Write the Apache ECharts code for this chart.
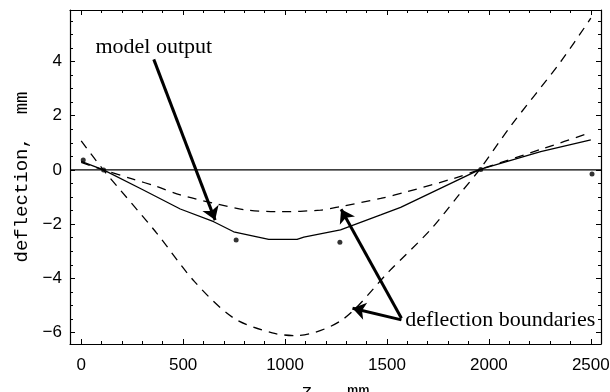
<!DOCTYPE html>
<html>
<head>
<meta charset="utf-8">
<script src="https://cdn.jsdelivr.net/npm/echarts@6/dist/echarts.min.js"></script>
<style>
  html, body { margin: 0; padding: 0; background: #fff; }
  #chart { width: 610px; height: 392px; }
</style>
</head>
<body>
<div id="chart"></div>
<script>
// Axis extents and tick labels
const zRange = [-55, 2550];
const deflRange = [-6.42, 5.9];
const zTickLabels = [0, 500, 1000, 1500, 2000, 2500];
const deflTickLabels = [-6, -4, -2, 0, 2, 4];

// Measured deflection points
const measuredZ = [10, 110, 760, 1269, 1960, 2506];
const measuredDefl = [0.37, 0.0, -2.58, -2.67, 0.02, -0.15];

// Model output (solid curve)
const modelZ = [0, 109, 300, 486, 650, 748, 920, 1059, 1092, 1272, 1469, 1567, 1957, 2254, 2500];
const modelDefl = [0.32, 0.0, -0.72, -1.44, -1.91, -2.28, -2.56, -2.56, -2.48, -2.21, -1.66, -1.38, 0.02, 0.68, 1.11];

// Upper deflection boundary (dashed)
const upperZ = [0, 109, 250, 366, 486, 650, 814, 977, 1174, 1272, 1469, 1600, 1829, 1957, 2271, 2500];
const upperDefl = [0.28, 0.0, -0.33, -0.6, -0.92, -1.23, -1.48, -1.54, -1.48, -1.35, -1.05, -0.8, -0.31, 0.02, 0.8, 1.38];

// Lower deflection boundary (dashed)
const lowerZ = [0, 109, 366, 556, 747, 937, 1052, 1280, 1509, 1714, 1853, 1957, 2107, 2353, 2500];
const lowerDefl = [1.07, 0.0, -2.29, -4.12, -5.46, -6.01, -6.11, -5.53, -3.75, -2.2, -0.92, 0.04, 1.62, 4.0, 5.6];

// Annotation texts and arrows (data coordinates)
const noteModel = { text: 'model output', at: [356, 4.54] };
const noteBounds = { text: 'deflection boundaries', at: [1590, -5.55] };
const arrows = [
  [[356, 4.08], [657, -1.85]],
  [[1571, -5.47], [1275, -1.45]],
  [[1571, -5.53], [1331, -5.1]]
];

const pairs = (xs, ys) => xs.map((x, i) => [x, ys[i]]);
const minorTicks = (lo, hi, step, majors) => {
  const out = [];
  for (let v = lo; v <= hi + 1e-9; v += step) {
    const r = Math.round(v * 1000) / 1000;
    if (!majors.includes(r)) out.push(r);
  }
  return out;
};
const zMinor = minorTicks(0, 2500, 100, zTickLabels);
const deflMinor = minorTicks(-6, 5.5, 0.5, deflTickLabels);

const ink = '#000';
const sansFont = '"Liberation Sans", Arial, sans-serif';
const monoFont = '"Liberation Mono", "Courier New", monospace';
const serifFont = '"Liberation Serif", "Times New Roman", serif';

function frameAxis(position, range, ticks, len, opts) {
  const ax = {
    type: 'value',
    position: position,
    min: range[0],
    max: range[1],
    splitLine: { show: false },
    axisLine: { show: !!opts.line, onZero: false, lineStyle: { color: ink, width: 1.2 } },
    axisTick: { show: true, inside: true, length: len, customValues: ticks, lineStyle: { color: ink, width: 1 } },
    axisLabel: { show: false }
  };
  if (opts.labels) {
    ax.axisLabel = {
      show: true,
      customValues: ticks,
      color: ink,
      fontFamily: sansFont,
      fontSize: 17,
      margin: opts.margin,
      formatter: v => String(v).replace('-', '\u2212')
    };
  }
  if (opts.name) {
    Object.assign(ax, {
      name: opts.name,
      nameLocation: 'middle',
      nameGap: opts.nameGap,
      nameTextStyle: { color: ink, fontFamily: monoFont, fontSize: 19 }
    });
  }
  return ax;
}

const chart = echarts.init(document.getElementById('chart'), null, { renderer: 'canvas' });

const lineBase = { type: 'line', showSymbol: false, symbol: 'none', silent: true, animation: false, xAxisIndex: 0, yAxisIndex: 0 };

chart.setOption({
  animation: false,
  backgroundColor: '#fff',
  grid: { left: 70, right: 9, top: 10, bottom: 48, containLabel: false, outerBoundsMode: 'none' },
  xAxis: [
    frameAxis('bottom', zRange, zTickLabels, 5, { line: true, labels: true, margin: 13, name: 'z,  mm', nameGap: 38 }),
    frameAxis('bottom', zRange, zMinor, 3, {}),
    frameAxis('top', zRange, zTickLabels, 5, { line: true }),
    frameAxis('top', zRange, zMinor, 3, {})
  ],
  yAxis: [
    frameAxis('left', deflRange, deflTickLabels, 5, { line: true, labels: true, margin: 8, name: 'deflection,  mm', nameGap: 38 }),
    frameAxis('left', deflRange, deflMinor, 3, {}),
    frameAxis('right', deflRange, deflTickLabels, 5, { line: true }),
    frameAxis('right', deflRange, deflMinor, 3, {})
  ],
  series: [
    Object.assign({}, lineBase, {
      name: 'zero',
      data: [[zRange[0], 0], [zRange[1], 0]],
      lineStyle: { color: ink, width: 1.3 },
      markLine: {
        silent: true,
        symbol: ['none', 'arrow'],
        symbolSize: 13,
        label: { show: false },
        lineStyle: { color: ink, width: 3, type: 'solid' },
        data: arrows.map(a => [{ coord: a[0] }, { coord: a[1] }])
      }
    }),
    Object.assign({}, lineBase, {
      name: 'model output',
      data: pairs(modelZ, modelDefl),
      lineStyle: { color: ink, width: 1.3 }
    }),
    Object.assign({}, lineBase, {
      name: 'upper boundary',
      data: pairs(upperZ, upperDefl),
      smooth: 0.3,
      lineStyle: { color: ink, width: 1.3, type: [9, 7] }
    }),
    Object.assign({}, lineBase, {
      name: 'lower boundary',
      data: pairs(lowerZ, lowerDefl),
      smooth: 0.3,
      lineStyle: { color: ink, width: 1.3, type: [9, 7] }
    }),
    {
      type: 'scatter',
      name: 'measured',
      silent: true,
      xAxisIndex: 0,
      yAxisIndex: 0,
      symbol: 'circle',
      symbolSize: 5,
      itemStyle: { color: ink },
      data: pairs(measuredZ, measuredDefl)
    }
  ]
});

// Place annotation texts once the axes are laid out
const px = p => chart.convertToPixel({ xAxisIndex: 0, yAxisIndex: 0 }, p);
const pm = px(noteModel.at);
const pb = px(noteBounds.at);
chart.setOption({
  graphic: [
    {
      type: 'text', x: pm[0], y: pm[1], silent: true,
      style: { text: noteModel.text, fill: ink, font: '22px ' + serifFont, align: 'center', verticalAlign: 'middle' }
    },
    {
      type: 'text', x: pb[0], y: pb[1], silent: true,
      style: { text: noteBounds.text, fill: ink, font: '22px ' + serifFont, align: 'left', verticalAlign: 'middle' }
    }
  ]
});
</script>
</body>
</html>
